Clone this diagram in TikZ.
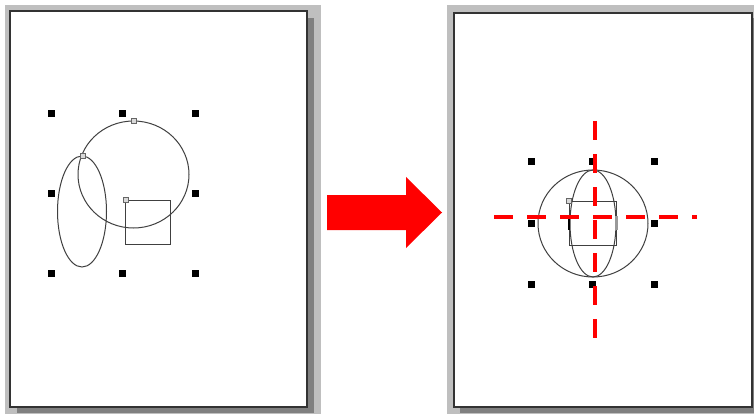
\documentclass[tikz,border=0pt]{standalone}
\usepackage{tikz}

\begin{document}
\begin{tikzpicture}[x=1pt, y=-1pt,
    window/.style={fill=black!25},
    shadow/.style={fill=black!50},
    page/.style={draw=black!80, line width=1.5pt, fill=white},
    outline/.style={draw=black!75, line width=1pt},
    handle/.style={fill=black, inner sep=0pt, minimum size=7pt},
    knob/.style={draw=black!60, fill=black!15, inner sep=0pt, minimum size=4.5pt, line width=0.6pt},
    guide/.style={red, line width=4.5pt, dash pattern=on 19pt off 14pt},
    bigarrow/.style={fill=red}
]
    \useasboundingbox (0,0) rectangle (754,414);

    % left window: before
    \fill[window] (5,5) rectangle (321,414);
    \fill[shadow] (17,18) rectangle (314,413);
    \filldraw[page] (10,11) rectangle (307,407);

    \draw[outline] (133.5,174.5) ellipse [x radius=55.5, y radius=53.5];
    \draw[outline] (82,211.5) ellipse [x radius=24.5, y radius=55.5];
    \draw[outline] (125,200) rectangle (170,244);

    \foreach \x/\y [count=\i] in {51/114, 122/114, 195/114, 51/193, 195/193, 51/273, 122/273, 195/273}
        \node[handle] (lh\i) at (\x,\y) {};
    \node[knob] (lk1) at (134,121) {};
    \node[knob] (lk2) at (83,156) {};
    \node[knob] (lk3) at (126,200) {};

    % arrow in between
    \fill[bigarrow] (327,195) -- (406,195) -- (406,177) -- (442,212.5)
        -- (406,248) -- (406,230) -- (327,230) -- cycle;

    % right window: after
    \fill[window] (447,5) rectangle (754,414);
    \fill[shadow] (460,18) rectangle (754,413);
    \filldraw[page] (454,13) rectangle (752,407);

    \draw[outline] (593,223.5) ellipse [x radius=55, y radius=53.5];
    \draw[outline] (593,223.5) ellipse [x radius=23, y radius=53.5];
    \draw[outline] (569,201) rectangle (616,245);
    \fill[black!40] (615,216) rectangle (618,230);
    \fill[black] (567.5,218) rectangle (570,230);

    \foreach \x/\y [count=\i] in {531/162, 592/162, 654/162, 531/223, 654/223, 531/284, 592/284, 654/284}
        \node[handle] (rh\i) at (\x,\y) {};
    \node[knob] (rk1) at (569,201) {};

    % centre guides
    \coordinate (gtop) at (595,121);
    \coordinate (gbot) at (595,338);
    \coordinate (gleft) at (494,217);
    \coordinate (gright) at (697,217);
    \draw[guide] (gtop) -- (gbot);
    \draw[guide] (gleft) -- (gright);
\end{tikzpicture}
\end{document}
